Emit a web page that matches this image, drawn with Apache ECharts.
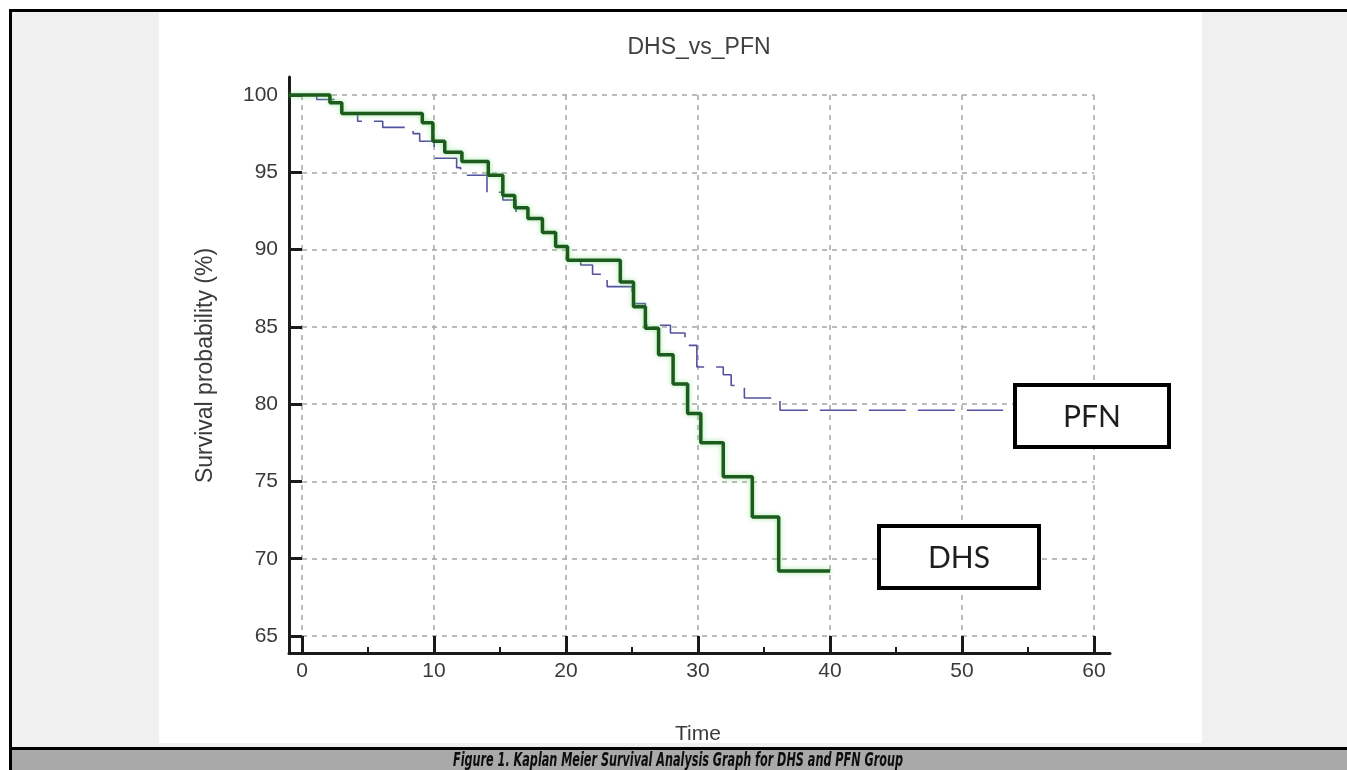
<!DOCTYPE html>
<html>
<head>
<meta charset="utf-8">
<script src="https://cdn.jsdelivr.net/npm/echarts@6/dist/echarts.min.js"></script>
<style>
  html, body { margin: 0; padding: 0; background: #fff; }
  #chart { width: 1347px; height: 770px; }
</style>
</head>
<body>
<div id="chart"></div>
<script>
// Kaplan-Meier steps (time, survival %)
const timeDHS = [-1, 2.1, 3.0, 9.1, 9.9, 10.8, 12.1, 14.1, 15.2, 16.1, 17.1, 18.2, 19.2, 20.1,
  24.1, 25.1, 26.0, 27.0, 28.1, 29.2, 30.2, 31.9, 34.1, 36.1, 40.0];
const survDHS = [100, 99.5, 98.8, 98.2, 97.0, 96.3, 95.7, 94.8, 93.5, 92.7, 92.0, 91.1, 90.2, 89.3,
  87.9, 86.3, 84.9, 83.2, 81.3, 79.4, 77.5, 75.3, 72.7, 69.2, 69.2];

const timePFN = [0, 1.1, 3.0, 4.2, 6.1, 8.4, 8.9, 10.0, 11.7, 12.0, 14.0, 15.2, 16.2, 17.1, 18.2,
  19.2, 20.1, 21.1, 22.0, 23.1, 25.0, 26.0, 27.9, 29.0, 29.9, 31.9, 32.5, 33.5, 36.2, 53.1];
const survPFN = [100, 99.7, 98.8, 98.3, 97.9, 97.5, 97.0, 95.9, 95.3, 94.8, 93.7, 93.2, 92.4, 92.0, 91.1,
  90.2, 89.3, 89.0, 88.4, 87.6, 86.5, 85.1, 84.6, 83.8, 82.4, 81.9, 81.2, 80.4, 79.6, 79.6];

const chartTitle = 'DHS_vs_PFN';
const xName = 'Time';
const yName = 'Survival probability (%)';
const caption = 'Figure 1. Kaplan Meier Survival Analysis Graph for DHS and PFN Group';

const chart = echarts.init(document.getElementById('chart'));

// caption is a narrow bold italic face: squeeze it to the measured width
const captionFont = 'italic bold 20px "DejaVu Sans"';
const ctx = document.createElement('canvas').getContext('2d');
ctx.font = captionFont;
const captionScale = 450 / ctx.measureText(caption).width;

const axisColor = '#1a1a1a';
const labelStyle = { color: '#3a3a3a', fontSize: 21, fontFamily: 'Liberation Sans, Arial, sans-serif' };
const nameStyle = { color: '#3a3a3a', fontSize: 23, fontFamily: 'Liberation Sans, Arial, sans-serif' };
const gridLine = { show: true, lineStyle: { color: '#a6a6a6', width: 1.5, type: [5, 5] } };

function pairs (t, s) {
  return t.map((v, i) => [v, s[i]]);
}

chart.setOption({
  animation: false,
  backgroundColor: '#fff',
  grid: [
    // frame: axis lines and the curves
    { left: 289, right: 237, top: 77, bottom: 117 },
    // 0..60 / 65..100: grid, major ticks, labels
    { left: 302, right: 253, top: 95, bottom: 134 },
    // minor ticks on the x axis line
    { left: 302, right: 253, top: 95, bottom: 117 }
  ],
  xAxis: [
    {
      gridIndex: 0, type: 'value', min: -1, max: 61.2,
      axisLine: { show: true, onZero: false, lineStyle: { color: axisColor, width: 3 } },
      axisTick: { show: false }, axisLabel: { show: false }, splitLine: { show: false }
    },
    {
      gridIndex: 1, type: 'value', min: 0, max: 60, interval: 10,
      axisLine: { show: false, onZero: false },
      axisTick: { show: true, inside: false, length: 17, lineStyle: { color: axisColor, width: 3 } },
      axisLabel: Object.assign({ margin: 25 }, labelStyle),
      splitLine: gridLine,
      name: xName, nameLocation: 'middle', nameGap: 88,
      nameTextStyle: labelStyle
    },
    {
      gridIndex: 2, type: 'value', min: 0, max: 60, interval: 5,
      axisLine: { show: false, onZero: false },
      axisTick: { show: true, inside: true, length: 6, lineStyle: { color: axisColor, width: 2 } },
      axisLabel: { show: false }, splitLine: { show: false }
    }
  ],
  yAxis: [
    {
      gridIndex: 0, type: 'value', min: 63.9, max: 101.16,
      axisLine: { show: true, onZero: false, lineStyle: { color: axisColor, width: 3 } },
      axisTick: { show: false }, axisLabel: { show: false }, splitLine: { show: false }
    },
    {
      gridIndex: 1, type: 'value', min: 65, max: 100, interval: 5,
      axisLine: { show: false, onZero: false },
      axisTick: { show: true, inside: false, length: 13, lineStyle: { color: axisColor, width: 3 } },
      axisLabel: Object.assign({ margin: 24 }, labelStyle),
      splitLine: gridLine,
      name: yName, nameLocation: 'middle', nameGap: 85,
      nameTextStyle: nameStyle
    },
    {
      gridIndex: 2, type: 'value', min: 65, max: 100, show: false
    }
  ],
  graphic: [
    // page frame
    { type: 'rect', silent: true, z: -10, shape: { x: 12, y: 12, width: 1335, height: 735 }, style: { fill: '#f0f0f0' } },
    { type: 'rect', silent: true, z: -9, shape: { x: 159, y: 12, width: 1043, height: 731 }, style: { fill: '#ffffff' } },
    { type: 'rect', silent: true, z: -8, shape: { x: 9, y: 9, width: 1338, height: 3 }, style: { fill: '#000' } },
    { type: 'rect', silent: true, z: -8, shape: { x: 9, y: 9, width: 3, height: 761 }, style: { fill: '#000' } },
    { type: 'rect', silent: true, z: -8, shape: { x: 9, y: 747, width: 1338, height: 3 }, style: { fill: '#000' } },
    { type: 'rect', silent: true, z: -8, shape: { x: 12, y: 750, width: 1335, height: 20 }, style: { fill: '#a9a9a9' } },
    {
      type: 'text', silent: true, x: 678, y: 761, scaleX: captionScale,
      style: { text: caption, font: captionFont, fill: '#0d0d0d', textAlign: 'center', textVerticalAlign: 'middle' }
    },
    // title
    {
      type: 'text', silent: true, x: 699, y: 48,
      style: { text: chartTitle, font: '23px "Liberation Sans"', fill: '#404040', textAlign: 'center', textVerticalAlign: 'middle' }
    },
    // curve labels
    { type: 'rect', z: 50, shape: { x: 1015, y: 385, width: 154, height: 62 }, style: { fill: '#fff', stroke: '#000', lineWidth: 4 } },
    {
      type: 'text', z: 51, x: 1092, y: 417,
      style: { text: 'PFN', font: '30px Lato', fill: '#1e1e1e', textAlign: 'center', textVerticalAlign: 'middle' }
    },
    { type: 'rect', z: 50, shape: { x: 879, y: 526, width: 160, height: 62 }, style: { fill: '#fff', stroke: '#000', lineWidth: 4 } },
    {
      type: 'text', z: 51, x: 959, y: 558,
      style: { text: 'DHS', font: '30px Lato', fill: '#1e1e1e', textAlign: 'center', textVerticalAlign: 'middle' }
    }
  ],
  series: [
    {
      name: 'PFN', type: 'line', xAxisIndex: 0, yAxisIndex: 0, step: 'end',
      showSymbol: false, z: 2,
      lineStyle: { color: '#5252a0', width: 1.6, type: [37, 12] },
      data: pairs(timePFN, survPFN)
    },
    {
      name: 'DHS', type: 'line', xAxisIndex: 0, yAxisIndex: 0, step: 'end',
      showSymbol: false, z: 3,
      lineStyle: { color: '#1d5a1d', width: 3.5, shadowColor: 'rgba(120,220,120,0.7)', shadowBlur: 5 },
      data: pairs(timeDHS, survDHS)
    }
  ]
});
</script>
</body>
</html>
